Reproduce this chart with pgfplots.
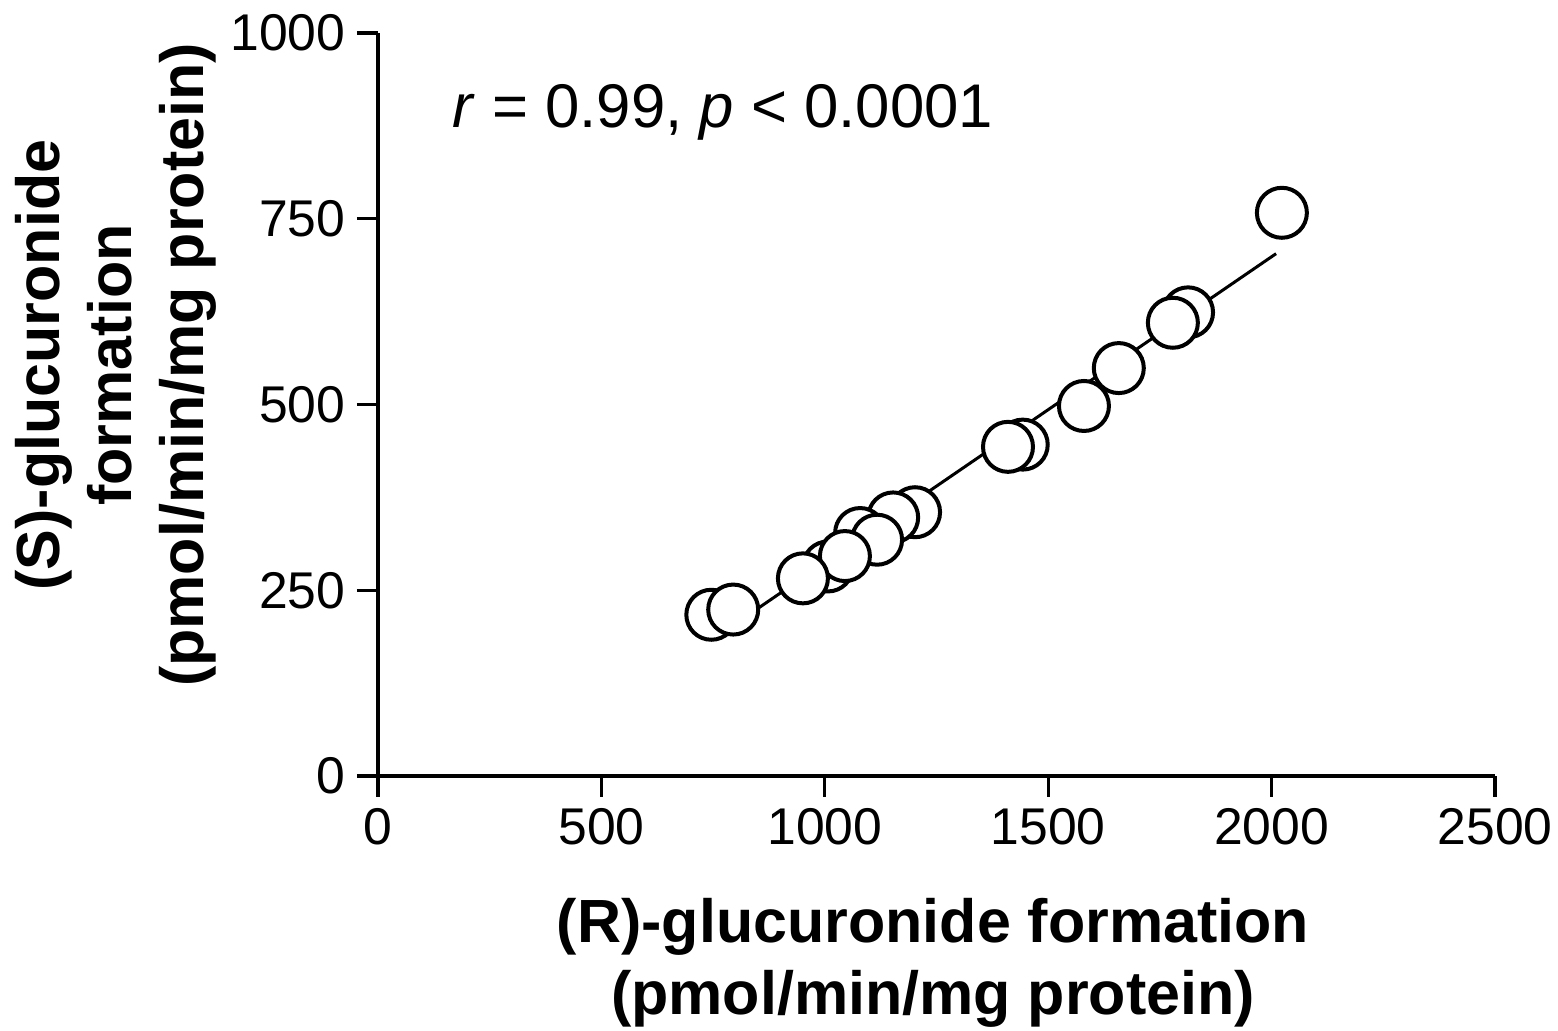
\documentclass[border=0pt]{standalone}
\usepackage{fontspec}
\setmainfont{Liberation Sans}
\usepackage{pgfplots}
\pgfplotsset{compat=1.18}
\begin{document}
\begin{tikzpicture}
\begin{axis}[
  at={(0pt,0pt)}, anchor=south west,
  scale only axis, width=335.1pt, height=222.9pt,
  xmin=0, xmax=2500, ymin=0, ymax=1000,
  axis lines=left,
  axis line style={-, line width=1pt},
  xtick={0,500,1000,1500,2000,2500},
  ytick={0,250,500,750,1000},
  tick align=outside, major tick length=6.3pt,
  tick style={line width=1pt, black},
  /pgf/number format/1000 sep={},
  /pgf/number format/assume math mode=true,
  tick label style={font=\fontsize{15.5}{18}\selectfont},
  clip=false,
]
\addplot[black, line width=0.9pt, no marks] coordinates {(780,196.6) (2010,703)};
\addplot[only marks, mark=*, mark size=7.5pt, mark options={fill=white, draw=black, line width=1.2pt}] coordinates {
(746,217) (795,224) (1202,355) (1153,348) (1079,327) (1117,318) (1007,282) (1045,296) (951,266)
(1443,446) (1410,443) (1580,498) (1658,549) (1813,624) (1779,610) (2023,758)
};
\end{axis}
\node[anchor=base west, font=\fontsize{18.5}{22}\selectfont, inner sep=0pt] at (22.2pt,194.4pt) {\textit{r} = 0.99, \textit{p} < 0.0001};
\node[align=center, font=\bfseries\fontsize{18.3}{21.6}\selectfont] at (166.5pt,-56.1pt) {(R)-glucuronide formation\\(pmol/min/mg protein)};
\node[align=center, rotate=90, font=\bfseries\fontsize{18.3}{21.6}\selectfont] at (-78.6pt,123.3pt) {(S)-glucuronide\\formation\\(pmol/min/mg protein)};
\pgfresetboundingbox
\useasboundingbox (-113.4pt,-76.5pt) rectangle (354pt,232.8pt);
\end{tikzpicture}
\end{document}
